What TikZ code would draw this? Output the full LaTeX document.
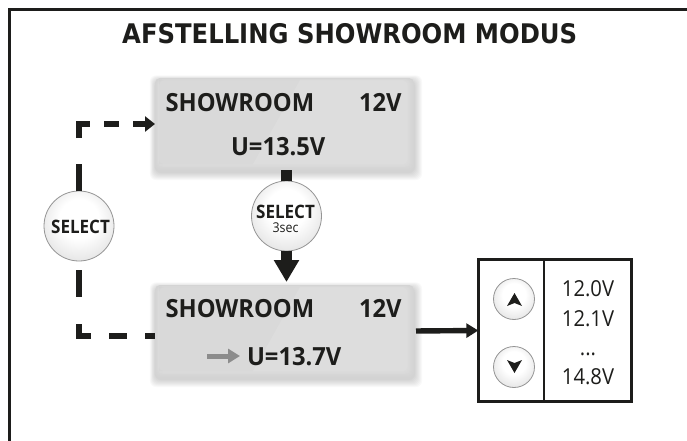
\documentclass[tikz,border=0pt]{standalone}
\usepackage{fontspec}
\setmainfont[FakeStretch=0.92]{Open Sans}
\newfontfamily\titlefont[FakeStretch=0.9]{DejaVu Sans}
\newfontfamily\lcdfont[FakeStretch=0.95]{Open Sans}
\newfontfamily\selfont[FakeStretch=0.92]{Open Sans}
\usetikzlibrary{arrows.meta}
\definecolor{ink}{HTML}{1D1D1B}
\definecolor{arrowgrey}{HTML}{8C8C8C}
\pgfdeclareradialshading{btnshade}{\pgfpoint{0bp}{7bp}}{%
  color(0bp)=(white); color(14bp)=(white); color(33bp)=(black!13); color(50bp)=(black!13)}
\tikzset{
  lcdpanel/.style={minimum width=259pt,minimum height=92pt,inner sep=0pt,outer sep=0pt,rounded corners=5pt,fill=black!17},
  roundbtn/.style={circle,draw=black!42,line width=0.8pt,inner sep=0pt,outer sep=0pt,minimum size=#1,shading=btnshade},
  lcdtext/.style={anchor=base west,inner sep=0pt,outer sep=0pt,font=\lcdfont\fontsize{25}{25}\selectfont\bfseries,text=ink},
  seltext/.style={anchor=base,inner sep=0pt,outer sep=0pt,font=\selfont\fontsize{18.5}{18.5}\selectfont\bfseries,text=ink},
  valtext/.style={anchor=base,inner sep=0pt,outer sep=0pt,font=\fontsize{22}{22}\selectfont,text=ink},
  dashline/.style={draw=ink,line width=5.4pt},
  thick arrow/.style={draw=ink,line width=11pt,-{Triangle[length=22pt,width=24pt]}},
}
\begin{document}
\begin{tikzpicture}[x=1pt,y=-1pt]
\useasboundingbox (0,0) rectangle (687,441);
% frame
\draw[ink,line width=3pt] (9.5,441) -- (9.5,10) -- (687,10);
\node[anchor=base west,inner sep=0,font=\titlefont\fontsize{27}{27}\selectfont\bfseries,text=ink] (title) at (122,44) {AFSTELLING SHOWROOM MODUS};
% soft shadows
\foreach \cy in {124,331}{
  \foreach \g in {1,...,8}{
    \fill[black,opacity=0.024,rounded corners=6pt] (155.5-\g*0.7,\cy-46+3-\g*0.7) rectangle (414+\g,\cy+46+2+\g);
  }
}
% panels
\node[lcdpanel] (lcd1) at (284.5,124) {};
\node[lcdpanel] (lcd2) at (284.5,331) {};
\foreach \cy in {124,331}{
  \foreach \g/\sh in {1/16.5,2/16,3/15.5,4/15,5/14.5,6/14,7/13.5}{
    \fill[black!\sh,rounded corners=5pt] (155.5+\g*0.5,\cy-46+\g*0.35) rectangle (414-\g*0.9,\cy+46-\g*0.8);
  }
  \fill[black,opacity=0.015] (159,\cy-44) -- (300,\cy-44) -- (253,\cy+40) -- (159,\cy+40) -- cycle;
}
% text
\node[lcdtext] (t1) at (165.5,111) {SHOWROOM};
\node[lcdtext] (v1) at (359,111) {12V};
\node[lcdtext] (u1) at (231,155) {U=13.5V};
\node[lcdtext] (t2) at (165.5,317) {SHOWROOM};
\node[lcdtext] (v2) at (359,317) {12V};
\node[lcdtext] (u2) at (247,365) {U=13.7V};
\coordinate (ga) at (207,356);
\coordinate (gb) at (240,356);
\draw[arrowgrey,line width=5pt,-{Triangle[length=12pt,width=14pt]}] (ga) -- (gb);
% buttons
\node[roundbtn=70pt] (sel1) at (79,226) {};
\node[roundbtn=70pt] (sel2) at (286.5,216) {};
\node[seltext] (s1) at (80.5,233) {SELECT};
\node[seltext] (s2) at (285.5,218) {SELECT};
\node[anchor=base,inner sep=0,font=\fontsize{13.5}{13.5}\selectfont,text=ink] (s3) at (285.5,232) {3sec};
% connectors
\coordinate (lcd2in) at (155,336);
\draw[dashline,dash pattern=on 27pt off 26pt on 25pt off 14pt on 15pt off 14pt on 30pt,-{Triangle[length=10pt,width=15pt]}]
  (sel1.north) -- (sel1.north |- lcd1.west) -- (lcd1.west);
\draw[dashline,dash pattern=on 0pt off 9pt on 27pt off 27pt on 24pt off 18pt on 18pt off 18pt on 20pt]
  (sel1.south) -- (sel1.south |- lcd2in) -- (lcd2in);
\draw[ink,line width=11pt] (lcd1.south -| sel2.north) -- (sel2.north);
\draw[thick arrow,shorten >=3pt] (sel2.south) -- (lcd2.north -| sel2.south);
% box
\node[draw=ink,line width=2.6pt,minimum width=153.4pt,minimum height=142.4pt,inner sep=0,outer sep=0] (box) at (555,330.5) {};
\draw[ink,line width=1.2pt] (544,258) -- (544,403);
\draw[ink,line width=5.4pt,shorten <=2pt,-{Triangle[length=12pt,width=14pt]}] (lcd2.east) -- (box.west);
\node[roundbtn=41pt] (up) at (514,299) {};
\node[roundbtn=41pt] (down) at (514,367) {};
\fill[ink] (514.5,293) -- (522,306) -- (514.5,303) -- (507,306) -- cycle;
\fill[ink] (514.5,373) -- (522,360) -- (514.5,363) -- (507,360) -- cycle;
\node[valtext] (a) at (588,296) {12.0V};
\node[valtext] (b) at (588,326) {12.1V};
\node[valtext] (c) at (588,355) {...};
\node[valtext] (d) at (588,384) {14.8V};
\end{tikzpicture}
\end{document}
